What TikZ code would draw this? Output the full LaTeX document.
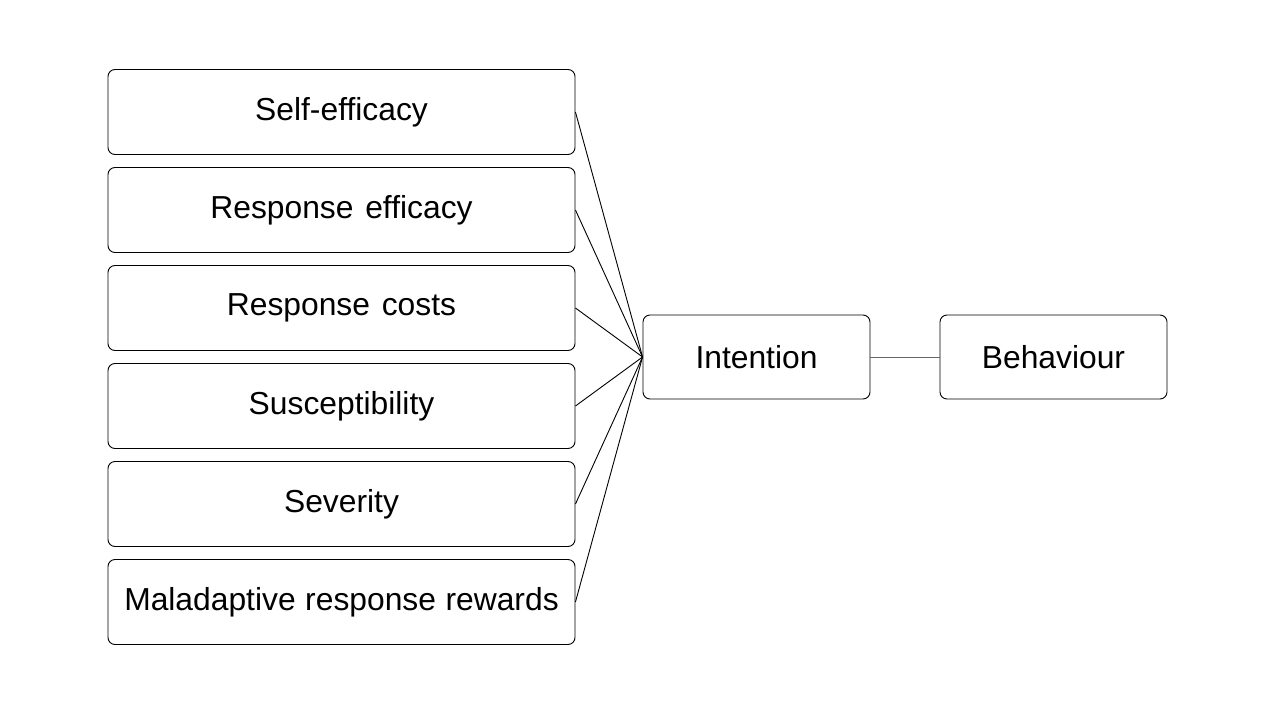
\documentclass[tikz,border=0pt]{standalone}
\usepackage{fontspec}
\setmainfont{Liberation Sans}
\begin{document}
\begin{tikzpicture}[x=1pt,y=-1pt,
  factor/.style={draw=black,line width=0.9pt,rounded corners=7pt,minimum width=467pt,minimum height=85pt,inner sep=0pt,font=\fontsize{31.8}{38}\selectfont},
  outbox/.style={draw=black,line width=0.9pt,rounded corners=7pt,minimum width=227pt,minimum height=84pt,inner sep=0pt,font=\fontsize{31.8}{38}\selectfont},
  link/.style={draw=black,line width=0.9pt}]
\useasboundingbox (0,0) rectangle (1280,720);
\node[factor] (f1) at (341.5,112) {Self-efficacy};
\node[factor] (f2) at (341.5,210) {Response\hspace{0.37em}efficacy};
\node[factor] (f3) at (341.5,308) {Response\hspace{0.37em}costs};
\node[factor] (f4) at (341.5,406) {Susceptibility};
\node[factor] (f5) at (341.5,504) {Severity};
\node[factor] (f6) at (341.5,602) {Maladaptive\hspace{0.3em}response\hspace{0.3em}rewards};
\node[outbox] (int) at (756.5,357) {Intention};
\node[outbox] (beh) at (1053.5,357) {Behaviour};
\foreach \i in {1,...,6} \draw[link] (f\i.east) -- (int.west);
\draw[link,draw=black!60] (int.east) -- (beh.west);
\end{tikzpicture}
\end{document}
